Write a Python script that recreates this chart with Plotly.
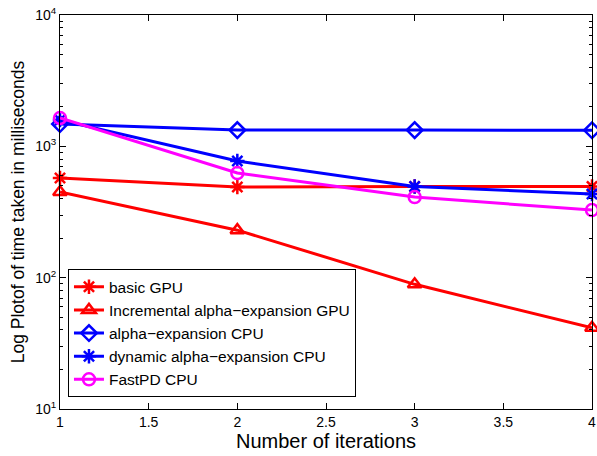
import plotly.graph_objects as go

iterations = [1, 2, 3, 4]
basic_gpu = [574, 490, 494, 495]
incremental_gpu = [449, 230, 89, 41.5]
alpha_cpu = [1480, 1330, 1330, 1325]
dynamic_cpu = [1585, 773, 494, 433]
fastpd_cpu = [1643, 626, 411, 327]

series = [
    ("basic GPU", basic_gpu, "#ff0000", "asterisk-open"),
    ("Incremental alpha−expansion GPU", incremental_gpu, "#ff0000", "triangle-up-open"),
    ("alpha−expansion CPU", alpha_cpu, "#0000ff", "diamond-open"),
    ("dynamic alpha−expansion CPU", dynamic_cpu, "#0000ff", "asterisk-open"),
    ("FastPD CPU", fastpd_cpu, "#ff00ff", "circle-open"),
]

fig = go.Figure()
for name, vals, col, sym in series:
    fig.add_trace(go.Scatter(
        x=iterations, y=vals, name=name, mode="lines+markers",
        line=dict(color=col, width=3),
        marker=dict(symbol=sym, size=12, color=col, line=dict(color=col, width=2.5)),
        cliponaxis=False,
    ))

minor_vals = [m * 10 ** e for e in (1, 2, 3) for m in range(2, 10)]
font = "Liberation Sans, Arial, sans-serif"

fig.update_layout(
    width=597, height=456,
    margin=dict(l=60, r=1, t=15, b=47),
    paper_bgcolor="white", plot_bgcolor="white",
    font=dict(family=font, size=14, color="black"),
    showlegend=True,
    legend=dict(x=0.015, y=0.03, xanchor="left", yanchor="bottom",
                bordercolor="black", borderwidth=1, bgcolor="white",
                font=dict(size=15.5, family=font)),
    xaxis=dict(
        range=[1, 4], tickvals=[1, 1.5, 2, 2.5, 3, 3.5, 4],
        ticktext=["1", "1.5", "2", "2.5", "3", "3.5", "4"],
        ticklabeloverflow="allow",
        ticks="inside", ticklen=6, tickcolor="black", mirror="ticks",
        showline=True, linecolor="black", linewidth=1, showgrid=False, zeroline=False,
        title=dict(text="Number of iterations", font=dict(size=20), standoff=4),
        tickfont=dict(size=14),
    ),
    yaxis=dict(
        type="log", range=[1, 4],
        tickvals=[10, 100, 1000, 10000],
        ticktext=["10<sup>1</sup>", "10<sup>2</sup>", "10<sup>3</sup>", "10<sup>4</sup>"],
        ticks="inside", ticklen=6, tickcolor="black", mirror="ticks",
        minor=dict(tickvals=minor_vals, ticks="inside", ticklen=3, tickcolor="black", showgrid=False),
        showline=True, linecolor="black", linewidth=1, showgrid=False, zeroline=False,
        title=dict(text="Log Plotof of time taken in milliseconds", font=dict(size=17.5), standoff=6),
        tickfont=dict(size=14),
    ),
)

fig.write_html("out.html")
